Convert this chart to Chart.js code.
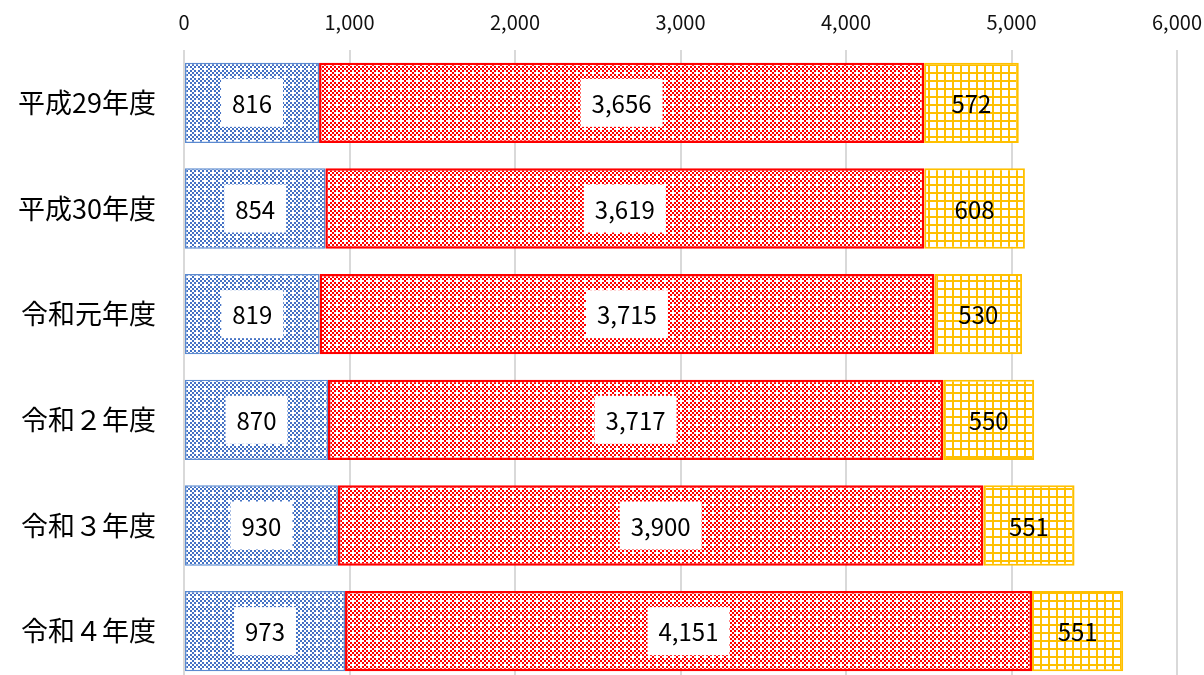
<!DOCTYPE html>
<html lang="ja">
<head>
<meta charset="utf-8">
<script src="https://cdn.jsdelivr.net/npm/chart.js@4"></script>
<style>
  html, body { margin: 0; padding: 0; background: #fff; overflow: hidden; }
  #wrap { width: 1204px; height: 684px; }
</style>
</head>
<body>
<div id="wrap"><canvas id="chart" width="1204" height="684"></canvas></div>
<script>
// データ
const categories = ['平成29年度', '平成30年度', '令和元年度', '令和２年度', '令和３年度', '令和４年度'];
const seriesBlue = [816, 854, 819, 870, 930, 973];
const seriesRed = [3656, 3619, 3715, 3717, 3900, 4151];
const seriesYellow = [572, 608, 530, 550, 551, 551];
const xTicks = [0, 1000, 2000, 3000, 4000, 5000, 6000];

// パターン作成 (cells = 4x4 のマス目, 1マス 2px)
function makePattern(size, drawFn) {
    const c = document.createElement('canvas');
    c.width = size; c.height = size;
    const g = c.getContext('2d');
    g.fillStyle = '#fff';
    g.fillRect(0, 0, size, size);
    drawFn(g);
    return document.getElementById('chart').getContext('2d').createPattern(c, 'repeat');
}

const bluePattern = makePattern(8, g => {
    g.fillStyle = '#4472C4';
    for (let j = 0; j < 4; j++) {
        for (let i = 0; i < 4; i++) {
            if ((i + j) % 2 === 0 && !(i === 2 && j === 2)) g.fillRect(i * 2, j * 2, 2, 2);
        }
    }
});

const redPattern = makePattern(8, g => {
    g.fillStyle = '#FF0000';
    for (let j = 0; j < 4; j++) {
        for (let i = 0; i < 4; i++) {
            if ((i + j) % 2 === 0 && !(i === 0 && j === 0)) g.fillRect(i * 2, j * 2, 2, 2);
        }
    }
});

const yellowPattern = makePattern(8, g => {
    g.fillStyle = '#FFC000';
    g.fillRect(0, 0, 8, 2);
    g.fillRect(0, 0, 2, 8);
});

// ラベル描画
const valueLabels = {
    id: 'valueLabels',
    afterDatasetsDraw(chart) {
        const ctx = chart.ctx;
        ctx.save();
        ctx.font = '24px "Noto Sans CJK JP", "Noto Sans", sans-serif';
        ctx.textAlign = 'center';
        ctx.textBaseline = 'middle';
        chart.data.datasets.forEach((ds, di) => {
            const meta = chart.getDatasetMeta(di);
            meta.data.forEach((bar, i) => {
                const txt = ds.data[i].toLocaleString('en-US');
                const p = bar.getCenterPoint();
                if (di < 2) {
                    const w = ctx.measureText(txt).width + 22;
                    ctx.fillStyle = '#fff';
                    ctx.fillRect(p.x - w / 2, p.y - 24, w, 48);
                }
                ctx.fillStyle = '#000';
                ctx.fillText(txt, p.x, p.y + 1);
            });
        });
        ctx.restore();
    }
};

new Chart(document.getElementById('chart'), {
    type: 'bar',
    data: {
        labels: categories,
        datasets: [
            { data: seriesBlue, backgroundColor: bluePattern, borderColor: '#5B8AD0', borderWidth: 1.5, borderSkipped: false },
            { data: seriesRed, backgroundColor: redPattern, borderColor: '#FF0000', borderWidth: 2.5, borderSkipped: false },
            { data: seriesYellow, backgroundColor: yellowPattern, borderColor: '#FFC000', borderWidth: 2, borderSkipped: false }
        ]
    },
    options: {
        indexAxis: 'y',
        responsive: false,
        animation: false,
        layout: { padding: { left: 0, right: 27, top: 0, bottom: 0 } },
        datasets: { bar: { categoryPercentage: 1, barPercentage: 0.76 } },
        plugins: { legend: { display: false }, tooltip: { enabled: false } },
        scales: {
            x: {
                position: 'top',
                stacked: true,
                min: 0, max: 6000,
                afterBuildTicks: s => { s.ticks = xTicks.map(v => ({ value: v })); },
                afterFit: s => { s.height = 50; s.paddingLeft = 0; s.paddingRight = 0; },
                grid: { color: '#D9D9D9', lineWidth: 2, drawTicks: false },
                border: { display: false },
                ticks: {
                    color: '#111',
                    font: { size: 20, family: '"Noto Sans CJK JP", "Noto Sans", sans-serif' },
                    padding: 16,
                    callback: v => v.toLocaleString('en-US')
                }
            },
            y: {
                stacked: true,
                afterFit: s => { s.width = 184; s.paddingTop = 0; s.paddingBottom = 0; },
                grid: { display: false },
                border: { display: false },
                ticks: {
                    color: '#000',
                    font: { size: 27, family: '"Noto Sans CJK JP", sans-serif' },
                    padding: 20
                }
            }
        }
    },
    plugins: [valueLabels]
});
</script>
</body>
</html>
